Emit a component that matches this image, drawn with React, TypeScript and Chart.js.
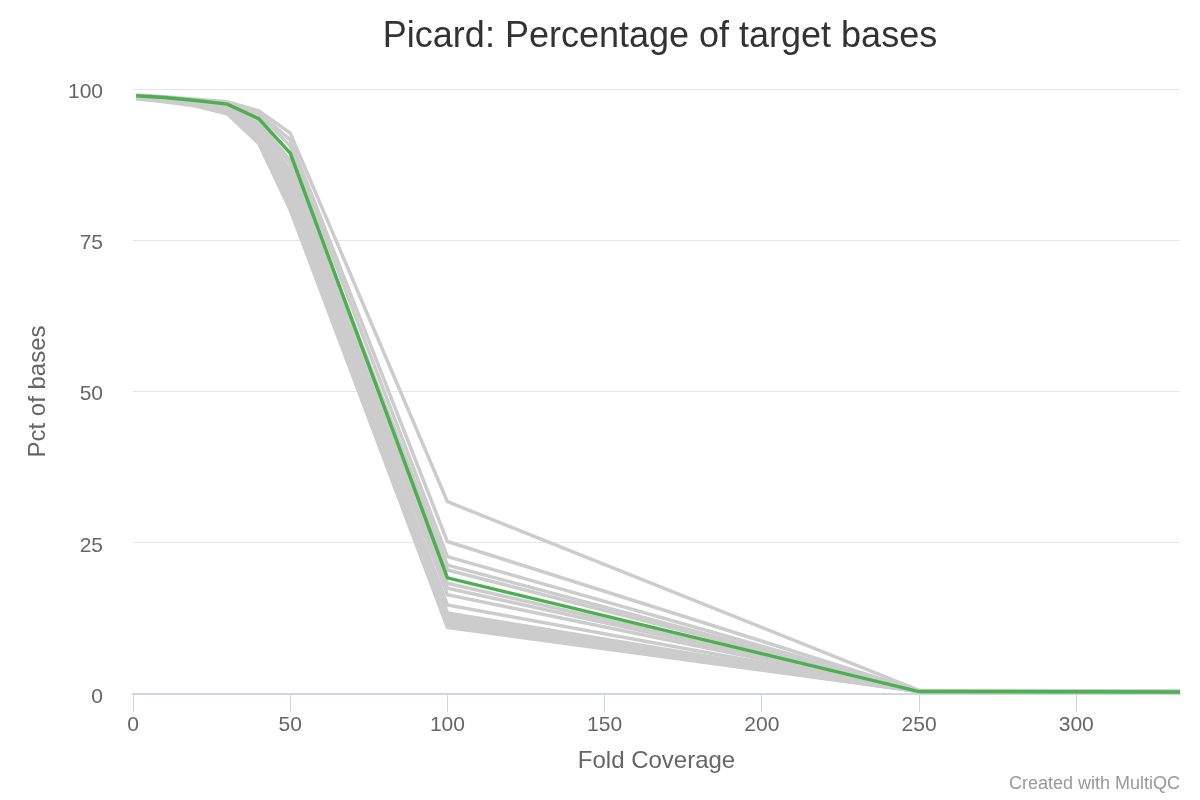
import React, { useEffect, useRef } from "react";
import { Chart, registerables } from "chart.js";

Chart.register(...registerables);

const chartTitle = "Picard: Percentage of target bases";
const xAxisTitle = "Fold Coverage";
const yAxisTitle = "Pct of bases";
const creditText = "Created with MultiQC";

const coverage = [1, 10, 20, 30, 40, 50, 100, 250, 500];
const xTicks = [0, 50, 100, 150, 200, 250, 300];
const yTicks = [0, 25, 50, 75, 100];

const highlighted = [98.9, 98.6, 98.1, 97.5, 95.1, 89.4, 19.2, 0.4, 0.2];

const s01 = [99.0, 98.7, 98.3, 97.9, 96.4, 92.7, 31.8, 0.6, 0.3];
const s02 = [98.9, 98.6, 98.2, 97.7, 96.0, 91.6, 25.2, 0.5, 0.3];
const s03 = [98.9, 98.6, 98.1, 97.6, 95.8, 90.6, 22.7, 0.5, 0.3];
const s04 = [98.8, 98.5, 98.0, 97.3, 94.6, 88.2, 21.3, 0.5, 0.3];
const s05 = [98.8, 98.5, 98.0, 97.2, 94.1, 87.6, 20.5, 0.4, 0.3];
const s06 = [98.8, 98.4, 97.9, 97.0, 93.6, 86.6, 18.3, 0.4, 0.3];
const s07 = [98.7, 98.4, 97.8, 96.9, 93.2, 86.0, 17.5, 0.4, 0.3];
const s08 = [98.7, 98.3, 97.8, 96.8, 92.8, 85.1, 16.4, 0.4, 0.3];
const s09 = [98.7, 98.3, 97.7, 96.6, 92.4, 84.2, 14.7, 0.4, 0.3];
const s10 = [98.6, 98.2, 97.6, 96.4, 92.0, 83.4, 13.1, 0.4, 0.3];
const s11 = [98.6, 98.2, 97.5, 96.3, 91.7, 82.6, 12.6, 0.4, 0.3];
const s12 = [98.6, 98.1, 97.4, 96.2, 91.4, 82.0, 12.2, 0.4, 0.3];
const s13 = [98.5, 98.1, 97.4, 96.1, 91.3, 81.4, 11.9, 0.4, 0.3];
const s14 = [98.5, 98.0, 97.3, 96.0, 91.2, 80.9, 11.6, 0.4, 0.3];
const s15 = [98.5, 98.0, 97.3, 96.0, 91.1, 80.4, 11.3, 0.4, 0.3];
const s16 = [98.4, 97.9, 97.2, 95.9, 91.0, 80.0, 11.0, 0.4, 0.3];
const s17 = [98.7, 98.3, 97.7, 96.7, 92.9, 84.6, 12.4, 0.4, 0.3];
const s18 = [98.7, 98.3, 97.8, 96.8, 93.4, 85.6, 13.4, 0.4, 0.3];

const greySamples = [s01, s02, s03, s04, s05, s06, s07, s08, s09, s10, s11, s12, s13, s14, s15, s16, s17, s18];

const FONT = "'Liberation Sans', Arial, Helvetica, sans-serif";

const toPoints = (vals: number[]) => vals.map((v, i) => ({ x: coverage[i], y: v }));

const textPlugin = {
  id: "texts",
  afterDraw(chart: any) {
    const { ctx, chartArea } = chart;
    const cx = (chartArea.left + chartArea.right) / 2;
    const cy = (chartArea.top + chartArea.bottom) / 2;
    ctx.save();
    ctx.textAlign = "center";
    ctx.textBaseline = "middle";
    ctx.fillStyle = "#333333";
    ctx.font = `36px ${FONT}`;
    ctx.fillText(chartTitle, 660, 37);

    ctx.fillStyle = "#666666";
    ctx.font = `24px ${FONT}`;
    ctx.fillText(xAxisTitle, cx, 761);

    ctx.save();
    ctx.translate(38, cy);
    ctx.rotate(-Math.PI / 2);
    ctx.fillText(yAxisTitle, 0, 0);
    ctx.restore();

    ctx.textAlign = "right";
    ctx.fillStyle = "#999999";
    ctx.font = `18px ${FONT}`;
    ctx.fillText(creditText, 1180, 784);
    ctx.restore();
  },
};

export default function App() {
  const ref = useRef<HTMLCanvasElement | null>(null);

  useEffect(() => {
    if (!ref.current) return;
    const datasets: any[] = [
      {
        label: "highlight",
        data: toPoints(highlighted),
        borderColor: "#4caf50",
        borderWidth: 3.5,
        pointRadius: 0,
        tension: 0,
      },
      ...greySamples.map((s, i) => ({
        label: `sample ${i + 1}`,
        data: toPoints(s),
        borderColor: "#cccccc",
        borderWidth: 3.5,
        pointRadius: 0,
        tension: 0,
      })),
    ];
    const chart = new Chart(ref.current, {
      type: "line",
      data: { datasets },
      plugins: [textPlugin],
      options: {
        animation: false,
        responsive: false,
        layout: { padding: { top: 89, right: 20, left: 0, bottom: 0 } },
        plugins: {
          legend: { display: false },
          title: { display: false },
          tooltip: { enabled: false },
        },
        scales: {
          x: {
            type: "linear",
            min: 0,
            max: 333,
            afterFit: (s: any) => {
              s.height = 106;
            },
            afterBuildTicks: (s: any) => {
              s.ticks = xTicks.map((v) => ({ value: v }));
            },
            ticks: {
              includeBounds: false,
              stepSize: 50,
              color: "#666666",
              font: { size: 21, family: FONT },
              padding: 1,
              maxRotation: 0,
            },
            grid: {
              drawOnChartArea: false,
              drawTicks: true,
              tickLength: 18,
              color: "#ccd6eb",
              lineWidth: 1,
            },
            border: { display: true, color: "#ccd6eb", width: 2 },
          },
          y: {
            type: "linear",
            min: 0,
            max: 100,
            afterFit: (s: any) => {
              s.width = 133;
            },
            afterBuildTicks: (s: any) => {
              s.ticks = yTicks.map((v) => ({ value: v }));
            },
            ticks: {
              stepSize: 25,
              color: "#666666",
              font: { size: 21, family: FONT },
              padding: 30,
              labelOffset: 3,
            },
            grid: { color: "#e6e6e6", lineWidth: 1, drawTicks: false },
            border: { display: false },
          },
        },
      },
    });
    return () => chart.destroy();
  }, []);

  return (
    <div style={{ position: "fixed", left: 0, top: 0, width: 1200, height: 800, background: "#fff" }}>
      <canvas ref={ref} width={1200} height={800} />
    </div>
  );
}
